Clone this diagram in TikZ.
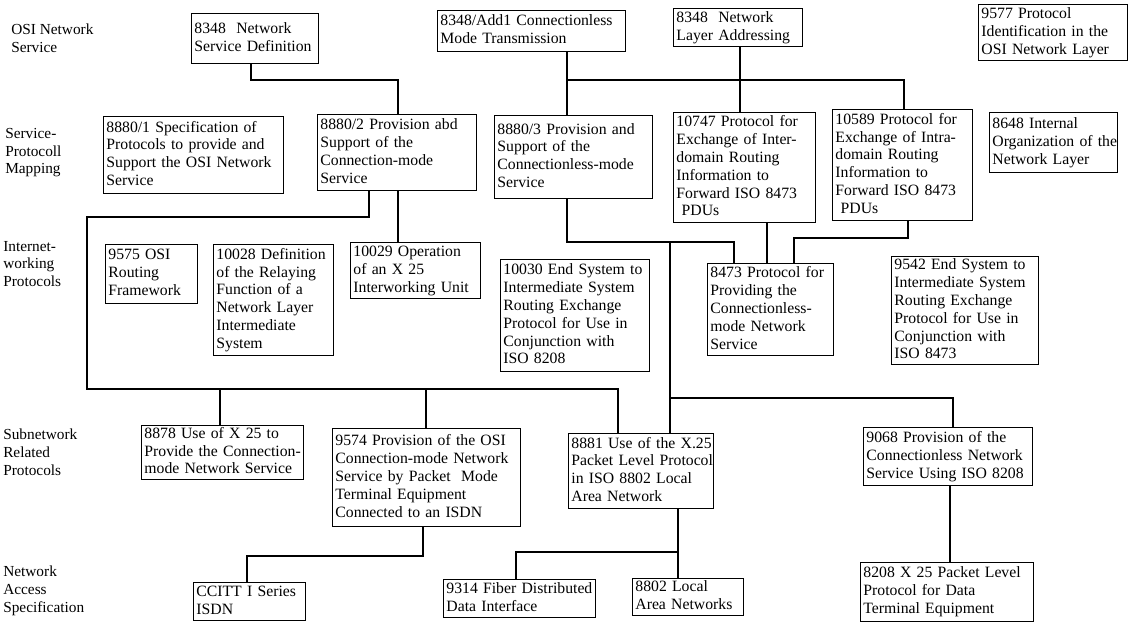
\documentclass[tikz,border=0pt]{standalone}
\usepackage{fontspec}
\setmainfont{Liberation Serif}
\newcommand{\bxt}[1]{\begin{tabular}{@{}l@{}}#1\end{tabular}}
\begin{document}
\begin{tikzpicture}[x=0.75pt,y=-0.75pt,
  bx/.style 2 args={draw, line width=1.1pt, anchor=north west, inner xsep=2pt, inner ysep=0pt,
    text width=#1*0.75pt-4pt, minimum height=#2*0.75pt, align=left, font=\fontsize{11.8}{13.4}\selectfont},
  lvl/.style={anchor=north west, inner sep=0pt, align=left, font=\fontsize{11.5}{13.2}\selectfont},
  ln/.style={line width=0.9pt}]
\useasboundingbox (0,0) rectangle (1134,625);
\fill[white] (0,0) rectangle (1134,625);

% level labels
\node[lvl] (L1) at (11,24) {OSI Network\\Service};
\node[lvl] (L2) at (5,128) {Service-\\Protocoll\\Mapping};
\node[lvl] (L3) at (3,241) {Internet-\\working\\Protocols};
\node[lvl] (L4) at (3,429) {Subnetwork\\Related\\Protocols};
\node[lvl] (L5) at (3,566) {Network\\Access\\Specification};

% boxes
\node[bx={127}{50}] (nsd) at (191,13) {\bxt{8348\ \ Network\\Service Definition}};
\node[bx={188}{41}] (cmt) at (437,10) {\bxt{8348/Add1 Connectionless\\Mode Transmission}};
\node[bx={129}{38}] (nla) at (673,8) {\bxt{8348\ \ Network\\Layer Addressing}};
\node[bx={149}{56}] (pid) at (978,4) {\bxt{9577 Protocol\\Identification in the\\OSI Network Layer}};

\node[bx={180}{77}] (sp1) at (103,116) {\bxt{8880/1 Specification of\\Protocols to provide and\\Support the OSI Network\\Service}};
\node[bx={159}{76}] (sp2) at (317,114) {\bxt{8880/2 Provision abd\\Support of the\\Connection-mode\\Service}};
\node[bx={158}{83}] (sp3) at (494,115) {\bxt{8880/3 Provision and\\Support of the\\Connectionless-mode\\Service}};
\node[bx={142}{110}] (r10747) at (673,112) {\bxt{10747 Protocol for\\Exchange of Inter-\\domain Routing\\Information to\\Forward ISO 8473\\\ PDUs}};
\node[bx={140}{111}] (r10589) at (832,109) {\bxt{10589 Protocol for\\Exchange of Intra-\\domain Routing\\Information to\\Forward ISO 8473\\\ PDUs}};
\node[bx={128}{60}] (io8648) at (989,112) {\bxt{8648 Internal\\Organization of the\\Network Layer}};

\node[bx={92}{59}] (rf9575) at (105,244) {\bxt{9575 OSI\\Routing\\Framework}};
\node[bx={120}{111}] (rl10028) at (213,244) {\bxt{10028 Definition\\of the Relaying\\Function of a\\Network Layer\\Intermediate\\System}};
\node[bx={130}{56}] (x10029) at (350,242) {\bxt{10029 Operation\\of an X 25\\Interworking Unit}};
\node[bx={149}{112}] (es10030) at (500,259) {\bxt{10030 End System to\\Intermediate System\\Routing Exchange\\Protocol for Use in\\Conjunction with\\ISO 8208}};
\node[bx={126}{92}] (p8473) at (707,263) {\bxt{8473 Protocol for\\Providing the\\Connectionless-\\mode Network\\Service}};
\node[bx={147}{108}] (es9542) at (891,256) {\bxt{9542 End System to\\Intermediate System\\Routing Exchange\\Protocol for Use in\\Conjunction with\\ISO 8473}};

\node[bx={162}{53}] (u8878) at (141,425) {\bxt{8878 Use of X 25 to\\Provide the Connection-\\mode Network Service}};
\node[bx={188}{98}] (p9574) at (332,428) {\bxt{9574 Provision of the OSI\\Connection-mode Network\\Service by Packet\ \ Mode\\Terminal Equipment\\Connected to an ISDN}};
\node[bx={145}{75}] (u8881) at (568,433) {\bxt{8881 Use of the X.25\\Packet Level Protocol\\in ISO 8802 Local\\Area Network}};
\node[bx={169}{58}] (p9068) at (863,427) {\bxt{9068 Provision of the\\Connectionless Network\\Service Using ISO 8208}};

\node[bx={112}{38}] (ccitt) at (193,582) {\bxt{CCITT I Series\\ISDN}};
\node[bx={152}{38}] (f9314) at (443,579) {\bxt{9314 Fiber Distributed\\Data Interface}};
\node[bx={111}{37}] (l8802) at (632,578) {\bxt{8802 Local\\Area Networks}};
\node[bx={173}{59}] (x8208) at (860,562) {\bxt{8208 X 25 Packet Level\\Protocol for Data\\Terminal Equipment}};

% junction coordinates
\coordinate (a1) at (251,80);
\coordinate (a2) at (398,80);
\coordinate (b1) at (567,80);
\coordinate (b2) at (904,80);
\coordinate (b3) at (740,80);
\coordinate (c1) at (369,217);
\coordinate (c2) at (87,217);
\coordinate (c3) at (87,389);
\coordinate (c4) at (618,389);
\coordinate (c5) at (220,389);
\coordinate (c6) at (426,389);
\coordinate (d1) at (398,230);
\coordinate (e1) at (567,242);
\coordinate (e2) at (734,242);
\coordinate (e3) at (670,242);
\coordinate (e4) at (670,398);
\coordinate (e5) at (953,398);
\coordinate (f1) at (767,240);
\coordinate (g1) at (908,238);
\coordinate (g2) at (794,238);
\coordinate (h1) at (423,556);
\coordinate (h2) at (247,556);
\coordinate (i1) at (678,552);
\coordinate (i2) at (516,552);
\coordinate (j1) at (950,520);

% connectors
\draw[ln] (nsd.south -| a1) -- (a1) -- (a2) -- (sp2.north -| a2);
\draw[ln] (cmt.south -| b1) -- (b1) -- (sp3.north -| b1);
\draw[ln] (b1) -- (b2) -- (r10589.north -| b2);
\draw[ln] (nla.south -| b3) -- (r10747.north -| b3);
\draw[ln] (sp2.south -| c1) -- (c1) -- (c2) -- (c3) -- (c4) -- (u8881.north -| c4);
\draw[ln] (c5) -- (u8878.north -| c5);
\draw[ln] (c6) -- (p9574.north -| c6);
\draw[ln] (sp2.south -| d1) -- (x10029.north -| d1);
\draw[ln] (sp3.south -| e1) -- (e1) -- (e2) -- (p8473.north -| e2);
\draw[ln] (e3) -- (e4) -- (u8881.north -| e4);
\draw[ln] (e4) -- (e5) -- (p9068.north -| e5);
\draw[ln] (r10747.south -| f1) -- (p8473.north -| f1);
\draw[ln] (r10589.south -| g1) -- (g1) -- (g2) -- (p8473.north -| g2);
\draw[ln] (p9574.south -| h1) -- (h1) -- (h2) -- (ccitt.north -| h2);
\draw[ln] (u8881.south -| i1) -- (l8802.north -| i1);
\draw[ln] (i1) -- (i2) -- (f9314.north -| i2);
\draw[ln] (p9068.south -| j1) -- (x8208.north -| j1);
\end{tikzpicture}
\end{document}
